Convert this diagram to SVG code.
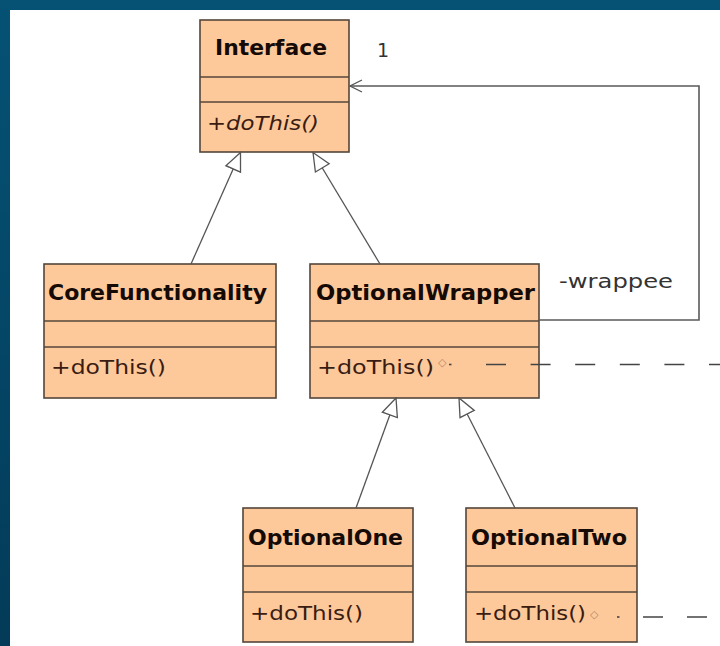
<svg xmlns="http://www.w3.org/2000/svg" width="720" height="646" viewBox="0 0 720 646">
  <defs>
    <linearGradient id="frame" x1="0" y1="0" x2="0" y2="1">
      <stop offset="0" stop-color="#055275"/>
      <stop offset="1" stop-color="#033b58"/>
    </linearGradient>
    <!-- hollow triangle for generalization -->
    <marker id="gen" markerUnits="userSpaceOnUse" viewBox="-1 -10 20 20" refX="18" refY="0" markerWidth="20" markerHeight="20" orient="auto">
      <path d="M18,0 L0,-8 L0,8 Z" fill="#ffffff" stroke="#555555" stroke-width="1.3"/>
    </marker>
    <!-- open arrow for navigable association -->
    <marker id="open" markerUnits="userSpaceOnUse" viewBox="-2 -8 16 16" refX="13" refY="0" markerWidth="16" markerHeight="16" orient="auto">
      <path d="M1,-6 L13,0 L1,6" fill="none" stroke="#555555" stroke-width="1.3"/>
    </marker>
    <style>
      .box { fill: #fdc99b; stroke: #54463a; stroke-width: 1.6; }
      .sep { stroke: #54463a; stroke-width: 1.6; }
      .name { font-family: "DejaVu Sans", Verdana, sans-serif; font-weight: bold; font-size: 22px; fill: #150a05; }
      .op { font-family: "DejaVu Sans", Verdana, sans-serif; font-size: 19px; fill: #3a1c12; }
      .lbl { font-family: "DejaVu Sans", Verdana, sans-serif; font-size: 19px; fill: #333333; }
      .mark { font-family: "DejaVu Sans", sans-serif; font-size: 11px; fill: #b08868; }
      .gen { fill: none; stroke: #555555; stroke-width: 1.3; marker-end: url(#gen); }
      .assoc { fill: none; stroke: #5a5a5a; stroke-width: 1.6; marker-end: url(#open); }
      .dash { fill: none; stroke: #444444; stroke-width: 1.6; }
    </style>
  </defs>

  <!-- frame and canvas -->
  <rect x="0" y="0" width="720" height="646" fill="url(#frame)"/>
  <rect x="10" y="10" width="710" height="636" fill="#ffffff"/>

  <!-- classes -->
  <g id="Interface">
    <rect class="box" x="200" y="20" width="149" height="132"/>
    <line class="sep" x1="200" y1="77" x2="349" y2="77"/>
    <line class="sep" x1="200" y1="102" x2="349" y2="102"/>
    <text class="name" x="215" y="55" textLength="112" lengthAdjust="spacingAndGlyphs">Interface</text>
    <text class="op" x="207" y="130" font-style="italic" textLength="112" lengthAdjust="spacingAndGlyphs">+doThis()</text>
  </g>

  <g id="CoreFunctionality">
    <rect class="box" x="44" y="264" width="232" height="134"/>
    <line class="sep" x1="44" y1="321" x2="276" y2="321"/>
    <line class="sep" x1="44" y1="347" x2="276" y2="347"/>
    <text class="name" x="48" y="300" textLength="219" lengthAdjust="spacingAndGlyphs">CoreFunctionality</text>
    <text class="op" x="51" y="374" textLength="115" lengthAdjust="spacingAndGlyphs">+doThis()</text>
  </g>

  <g id="OptionalWrapper">
    <rect class="box" x="310" y="264" width="229" height="134"/>
    <line class="sep" x1="310" y1="321" x2="539" y2="321"/>
    <line class="sep" x1="310" y1="347" x2="539" y2="347"/>
    <text class="name" x="316" y="300" textLength="219" lengthAdjust="spacingAndGlyphs">OptionalWrapper</text>
    <text class="op" x="317" y="374" textLength="117" lengthAdjust="spacingAndGlyphs">+doThis()</text>
    <text class="mark" x="438" y="366">◇</text>
  </g>

  <g id="OptionalOne">
    <rect class="box" x="243" y="508" width="170" height="134"/>
    <line class="sep" x1="243" y1="566" x2="413" y2="566"/>
    <line class="sep" x1="243" y1="592" x2="413" y2="592"/>
    <text class="name" x="248" y="545" textLength="155" lengthAdjust="spacingAndGlyphs">OptionalOne</text>
    <text class="op" x="250" y="620" textLength="113" lengthAdjust="spacingAndGlyphs">+doThis()</text>
  </g>

  <g id="OptionalTwo">
    <rect class="box" x="466" y="508" width="171" height="134"/>
    <line class="sep" x1="466" y1="566" x2="637" y2="566"/>
    <line class="sep" x1="466" y1="592" x2="637" y2="592"/>
    <text class="name" x="471" y="545" textLength="156" lengthAdjust="spacingAndGlyphs">OptionalTwo</text>
    <text class="op" x="474" y="620" textLength="112" lengthAdjust="spacingAndGlyphs">+doThis()</text>
    <text class="mark" x="590" y="618">◇</text>
  </g>

  <!-- connectors, drawn last so the note anchors cross the class boxes -->
  <g id="connectors">
    <line class="gen" x1="191" y1="264" x2="240.5" y2="152.5"/>
    <line class="gen" x1="380" y1="264" x2="313" y2="152.5"/>
    <line class="gen" x1="356" y1="508" x2="396" y2="398"/>
    <line class="gen" x1="515" y1="508" x2="459" y2="398"/>
    <path class="assoc" d="M539,320 H699 V86 H350"/>
    <text class="lbl" x="377" y="57">1</text>
    <text class="lbl" x="559" y="288" textLength="114" lengthAdjust="spacingAndGlyphs">-wrappee</text>
    <!-- note anchors from the overridden operations -->
    <line class="dash" x1="449" y1="364.5" x2="451.5" y2="364.5"/>
    <line class="dash" x1="486" y1="364.5" x2="720" y2="364.5" stroke-dasharray="20 24.6"/>
    <line class="dash" x1="617" y1="617" x2="619.5" y2="617"/>
    <line class="dash" x1="643" y1="617" x2="720" y2="617" stroke-dasharray="20 24"/>
  </g>
</svg>
